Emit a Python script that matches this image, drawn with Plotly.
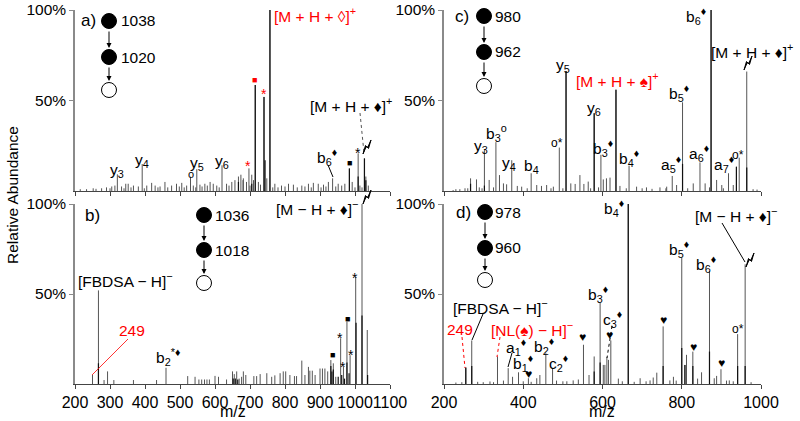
import plotly.graph_objects as go

W, H = 800, 421
FONT = "Arial, 'Liberation Sans', sans-serif"

# ---------------- data (m/z, relative abundance %) ----------------
a_mz = [321, 392, 530, 548, 620, 697, 715, 740, 757, 936, 984, 1009, 1027,
        233, 252, 276, 290, 305, 314, 333, 345, 352, 367, 381, 405, 419, 429, 443, 457,
        476, 490, 505, 519, 538, 557, 571, 586, 595, 605, 633, 648, 657, 667, 674, 681,
        690, 705, 710, 724, 748, 771, 790, 810, 824, 848, 867, 881, 895, 910, 924, 952,
        962, 971, 992, 1014, 1031, 1038, 680, 215, 260, 300, 340, 360, 398, 437, 465,
        498, 512, 545, 563, 578, 612, 640, 700, 730, 765, 780, 800, 835, 857, 875, 903,
        917, 945, 1000, 1020]
a_int = [9.2, 14.9, 7.9, 12, 14.2, 12.5, 58.5, 52, 100, 7, 12.5, 20.8, 18,
         1, 1.5, 1.5, 2, 2.5, 3, 2.5, 4, 4, 3, 2.5, 3, 4.5, 3, 2.5, 5,
         3, 4, 4.5, 3, 3, 3.5, 4, 5, 4, 3, 4, 5, 6, 8, 9, 7,
         5, 9, 6, 5, 7, 4, 3, 4, 3.5, 3, 4, 4.5, 4, 3.5, 5, 4,
         3, 4, 5, 3, 8, 3, 6, 1, 1.2, 1.5, 1.5, 2, 1.5, 2, 2,
         2.5, 2, 2, 2.5, 3, 2, 3, 3, 3.5, 2, 2, 2.5, 2, 2.5, 2, 2,
         2.5, 2.5, 2, 2]
a_dark_mz = [715, 740, 743, 757, 984, 1009, 1027, 1031, 667, 705]
a_dark_int = [58.5, 52, 17, 100, 12.5, 8, 18, 6, 5, 4]

b_mz = [250, 267, 283, 293, 311, 367, 433, 460, 522, 543, 554, 562, 570, 577, 584,
        600, 610, 633, 650, 655, 662, 669, 676, 681, 688, 711, 719, 729, 748, 762,
        771, 786, 795, 802, 814, 827, 833, 848, 857, 867, 871, 878, 886, 900, 907,
        914, 922, 931, 938, 945, 959, 967, 977, 986, 1002, 1020, 1035]
b_int = [5, 52, 2.2, 7, 2.2, 2.2, 2.2, 9, 4.4, 4, 2.5, 2.5, 2.5, 2.5, 2.5,
         4.5, 4, 2.5, 7, 5.5, 7, 3, 4, 7, 5, 4.4, 4.4, 5.5, 6, 4,
         4.8, 6, 7, 7, 5, 4.4, 4.4, 13, 5, 9.5, 7.4, 7.4, 5, 8.6, 8.6,
         8.6, 7, 13.3, 11.5, 4, 25.4, 9.6, 34.6, 16, 59.5, 100, 30]
b_dark_mz = [267, 652, 658, 665, 931, 934, 938, 952, 962, 970, 977, 983, 1003, 1020, 1036]
b_dark_int = [11.5, 3, 3, 2.5, 10, 7, 8, 4, 5, 3, 12, 6, 34, 38, 5]

c_mz = [302, 331, 371, 420, 491, 508, 579, 596, 634, 667, 776, 802, 846, 874, 918,
        938, 945, 964,
        223, 240, 253, 267, 282, 289, 314, 340, 350, 358, 385, 396, 434, 446, 459,
        476, 520, 531, 543, 553, 564, 602, 610, 619, 644, 686, 711, 745, 762, 787,
        829, 859, 888, 901, 930, 230, 260, 296, 325, 410, 470, 500, 570, 590, 660,
        700, 725, 760, 815, 870, 905, 980, 990]
c_int = [22.6, 27, 17, 9.8, 24, 66.3, 43, 20, 56, 14, 8.3, 49, 15.8, 100, 9.8,
         13.4, 18.4, 66,
         0.5, 1, 1.5, 7, 6.4, 2, 6.1, 8.8, 4.2, 3.7, 2.8, 2.4, 3.3, 2.8, 3.3,
         2.4, 4.2, 3.9, 8.8, 3.9, 5.2, 6.4, 7, 7.4, 2.8, 2.4, 2, 2, 2.4, 3.3,
         4.2, 4.2, 6.1, 3.3, 3.3, 1, 1.5, 1.5, 2, 1.5, 1.5, 1.5, 1.5, 2, 1.5,
         1.5, 1.2, 1.5, 1.5, 2, 1.5, 1, 0.8]
c_dark_mz = [267, 302, 508, 579, 634, 802, 874, 938, 964]
c_dark_int = [4, 3, 66.3, 43, 56, 15, 100, 13.4, 13]

d_mz = [255, 270, 335, 362, 388, 413, 457, 474, 552, 579, 594, 602, 606, 611, 615,
        621, 665, 737, 728, 753, 800, 808, 812, 828, 850, 870, 882, 888, 899, 913,
        941, 960,
        299, 316, 350, 373, 434, 442, 484, 510, 526, 539, 566, 695, 779, 786, 230,
        245, 285, 325, 400, 420, 500, 640, 650, 680, 710, 720, 770, 840, 920, 930, 975]
d_int = [9.1, 24.2, 15.3, 8.8, 6.5, 3.2, 17.1, 8.8, 21.8, 15.3, 45, 10.6, 10.6, 14.9, 13.4,
         24.2, 100, 6.3, 3.6, 32, 70.2, 10.6, 16.2, 18, 6.5, 62.7, 3.2, 4.5, 8.2, 1.9,
         27.7, 66.5,
         1, 1.4, 1.9, 4, 3.2, 5, 1.9, 1.5, 2, 2.5, 5, 3.2, 4, 1.9, 0.8,
         1, 1.2, 1, 1.5, 1.2, 1.5, 3, 1.5, 1.2, 1.5, 2, 2, 3, 2, 1.5, 1]
d_dark_mz = [255, 270, 579, 594, 665, 753, 800, 808, 828, 870, 941, 960]
d_dark_int = [9.1, 10, 7, 12, 100, 10, 20, 10.6, 10, 18, 10, 10]

x_left_ticks = [200, 300, 400, 500, 600, 700, 800, 900, 1000, 1100]
x_right_ticks = [200, 400, 600, 800, 1000]
y_ticks = [50, 100]
y_tick_text = ["50%", "100%"]


def px(x):
    return x / W


def py(y):
    return 1 - y / H


def stems(mz, inten):
    xs, ys = [], []
    for m, h in zip(mz, inten):
        xs += [m, m, None]
        ys += [0, h, None]
    return xs, ys


fig = go.Figure()
panels = [("x", "y", a_mz, a_int, a_dark_mz, a_dark_int),
          ("x2", "y2", b_mz, b_int, b_dark_mz, b_dark_int),
          ("x3", "y3", c_mz, c_int, c_dark_mz, c_dark_int),
          ("x4", "y4", d_mz, d_int, d_dark_mz, d_dark_int)]
for xa, ya, mz, it, dmz, dit in panels:
    xs, ys = stems(mz, it)
    fig.add_trace(go.Scatter(x=xs, y=ys, mode="lines", xaxis=xa, yaxis=ya,
                             line=dict(color="#555555", width=1), hoverinfo="skip"))
    xs, ys = stems(dmz, dit)
    fig.add_trace(go.Scatter(x=xs, y=ys, mode="lines", xaxis=xa, yaxis=ya,
                             line=dict(color="#111111", width=1.2), hoverinfo="skip"))


def xax(dom, rng, ticks, anchor, labels):
    return dict(domain=dom, range=rng, anchor=anchor, showline=True, linecolor="#444444",
                linewidth=1, ticks="outside", ticklen=4, tickcolor="#444444",
                tickvals=ticks, showticklabels=labels, showgrid=False, zeroline=False,
                tickangle=0, automargin=False,
                tickfont=dict(family=FONT, size=16, color="black"))


def yax(dom, anchor):
    return dict(domain=dom, range=[0, 100], anchor=anchor, showline=True,
                linecolor="#8a8a8a", linewidth=1.5, ticks="outside", ticklen=4,
                tickcolor="#8a8a8a", tickvals=y_ticks, ticktext=y_tick_text,
                showgrid=False, zeroline=False, automargin=False,
                tickfont=dict(family=FONT, size=15.5, color="black"))


LX = [px(75), px(390)]
RX = [px(444), px(761)]
TY = [py(191), py(10)]
BY = [py(384), py(204)]

fig.update_layout(
    width=W, height=H, autosize=False,
    margin=dict(l=0, r=0, t=0, b=0, pad=0, autoexpand=False),
    paper_bgcolor="white", plot_bgcolor="white", showlegend=False,
    xaxis=xax(LX, [200, 1100], x_left_ticks, "y", False),
    yaxis=yax(TY, "x"),
    xaxis2=xax(LX, [200, 1100], x_left_ticks, "y2", True),
    yaxis2=yax(BY, "x2"),
    xaxis3=xax(RX, [200, 1000], x_right_ticks, "y3", False),
    yaxis3=yax(TY, "x3"),
    xaxis4=xax(RX, [200, 1000], x_right_ticks, "y4", True),
    yaxis4=yax(BY, "x4"),
)

anns = []
shapes = []
RED = "#ff0000"


def lab(text, x, y, color="black", size=15.5, xanchor="center"):
    anns.append(dict(text=text, x=px(x), y=py(y), xref="paper", yref="paper",
                     showarrow=False, xanchor=xanchor, yanchor="middle",
                     font=dict(family=FONT, size=size, color=color)))


def line(x0, y0, x1, y1, color="black", dash="solid", width=1):
    shapes.append(dict(type="line", xref="paper", yref="paper", x0=px(x0), y0=py(y0),
                       x1=px(x1), y1=py(y1), line=dict(color=color, width=width, dash=dash)))


def circle(cx, cy, r, filled):
    shapes.append(dict(type="circle", xref="paper", yref="paper",
                       x0=px(cx - r), x1=px(cx + r), y0=py(cy + r), y1=py(cy - r),
                       fillcolor="black" if filled else "white",
                       line=dict(color="black", width=1)))


def arrow(x, y0, y1):
    anns.append(dict(text="", x=px(x), y=py(y1), xref="paper", yref="paper",
                     ax=0, ay=-(y1 - y0), showarrow=True, arrowhead=2, arrowsize=1,
                     arrowwidth=1, arrowcolor="black"))


def bolt(cx, cy):
    pts = [(-4, 7), (-0.5, -1), (1.5, 1.5), (4, -7), (0.5, 1), (-1.5, -1.5)]
    path = "M " + " L ".join(f"{px(cx + dx):.5f},{py(cy + dy):.5f}" for dx, dy in pts) + " Z"
    shapes.append(dict(type="path", xref="paper", yref="paper", path=path,
                       fillcolor="black", line=dict(color="black", width=1)))


def diagram(cx, y1, y2, y3, t1, t2, tx):
    circle(cx, y1, 7.5, True)
    arrow(cx, y1 + 9, y2 - 9)
    circle(cx, y2, 7.5, True)
    arrow(cx, y2 + 9, y3 - 9)
    circle(cx, y3, 7.5, False)
    lab(t1, tx, y1)
    lab(t2, tx, y2)


# panel a
lab("a)", 88, 21, size=17)
diagram(109, 21, 57, 90, "1038", "1020", 138)
lab("[M + H + ◊]<sup>+</sup>", 272, 15, color=RED, xanchor="left")
lab("■", 255, 80, color=RED, size=9)
lab("*", 264, 94, color=RED, size=14)
lab("[M + H + ♦]<sup>+</sup>", 351, 105)
line(360, 113, 364, 153, color="#555555", dash="dot")
lab("y<sub>3</sub>", 117, 170)
lab("y<sub>4</sub>", 142, 161)
lab("o", 191, 174, size=11)
lab("y<sub>5</sub>", 197, 164)
lab("y<sub>6</sub>", 222, 162)
lab("*", 248, 166, color=RED, size=14)
lab("b<sub>6</sub><sup>♦</sup>", 327, 157)
line(328, 165, 333, 177)
lab("■", 349, 163, size=9)
lab("*", 358, 153, size=14)
bolt(367, 147)

# panel b
lab("b)", 92, 215, size=17)
diagram(204, 215, 250, 283, "1036", "1018", 232)
lab("[M − H + ♦]<sup>−</sup>", 317, 208)
lab("[FBDSA − H]<sup>−</sup>", 125, 280)
lab("249", 132, 330, color=RED)
line(128, 339, 92, 375, color=RED, width=0.8)
lab("b<sub>2</sub><sup>*♦</sup>", 168, 357)
lab("■", 332, 355, size=9)
lab("*", 340, 338, size=14)
lab("■", 347, 319, size=9)
lab("*", 343, 367, size=14)
lab("*", 351, 355, size=14)
lab("*", 355, 278, size=14)
bolt(367, 197)

# panel c
lab("c)", 462, 16, size=17)
diagram(484, 16, 52, 86, "980", "962", 508)
lab("y<sub>5</sub>", 563, 66)
lab("[M + H + ♠]<sup>+</sup>", 617, 80, color=RED)
lab("y<sub>6</sub>", 594, 109)
lab("b<sub>5</sub><sup>♦</sup>", 679, 93)
lab("b<sub>6</sub><sup>♦</sup>", 696, 16)
lab("[M + H + ♦]<sup>+</sup>", 752, 51)
lab("y<sub>3</sub>", 481, 146)
lab("b<sub>3</sub><sup>o</sup>", 496, 133)
lab("y<sub>4</sub>", 509, 164)
lab("b<sub>4</sub>", 531, 166)
lab("o*", 557, 143, size=12)
lab("b<sub>3</sub><sup>♦</sup>", 603, 148)
lab("b<sub>4</sub><sup>♦</sup>", 629, 158)
lab("a<sub>5</sub><sup>♦</sup>", 671, 164)
lab("a<sub>6</sub><sup>♦</sup>", 699, 153)
lab("a<sub>7</sub><sup>♦</sup>", 724, 164)
lab("o*", 738, 155, size=12)
bolt(748, 63)

# panel d
lab("d)", 463, 212, size=17)
diagram(485, 212, 248, 280, "978", "960", 508)
lab("b<sub>4</sub><sup>♦</sup>", 614, 208)
lab("[M − H + ♦]<sup>−</sup>", 736, 215)
line(722, 223, 745, 262)
bolt(750, 260)
lab("b<sub>5</sub><sup>♦</sup>", 679, 249)
lab("b<sub>6</sub><sup>♦</sup>", 706, 264)
lab("b<sub>3</sub><sup>♦</sup>", 598, 294)
lab("[FBDSA − H]<sup>−</sup>", 500, 307)
line(483, 314, 472, 340)
lab("249", 460, 329, color=RED)
line(462, 337, 465, 368, color=RED, dash="dot")
lab("[NL(♠) − H]<sup>−</sup>", 532, 329, color=RED)
line(500, 337, 497, 357, color=RED, dash="dot")
lab("c<sub>3</sub><sup>♦</sup>", 613, 319)
line(612, 326, 607, 358, dash="dot")
lab("a<sub>1</sub><sup>♦</sup>", 516, 347)
line(512, 353, 508, 367)
lab("b<sub>2</sub><sup>♦</sup>", 544, 346)
lab("b<sub>1</sub><sup>♦</sup>", 523, 363)
lab("c<sub>2</sub><sup>♦</sup>", 559, 363)
for hx, hy in [(609, 335), (528, 374), (582, 337), (663, 320), (693, 347), (721, 363)]:
    lab("♥", hx, hy, size=12)
lab("o*", 738, 329, size=12)

# axis titles
lab("m/z", 233, 411, size=16)
lab("m/z", 602, 411, size=16)
anns.append(dict(text="Relative Abundance", x=px(12), y=py(195), xref="paper", yref="paper",
                 showarrow=False, textangle=-90, xanchor="center", yanchor="middle",
                 font=dict(family=FONT, size=15.5, color="black")))

fig.update_layout(annotations=anns, shapes=shapes)
fig.write_html(
    "out.html",
    config={"displayModeBar": False},
    post_script="document.body.style.margin='0px';document.body.style.overflow='hidden';",
)
